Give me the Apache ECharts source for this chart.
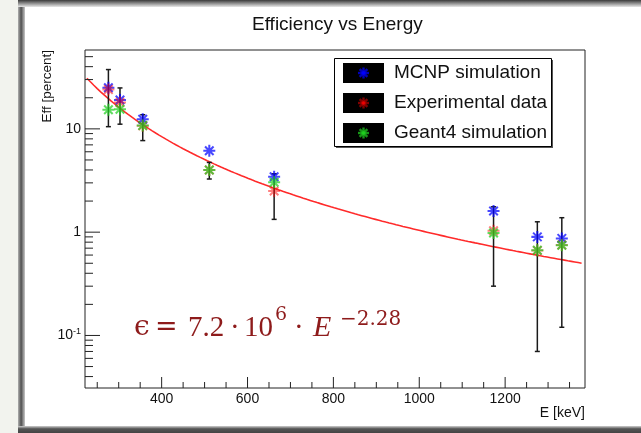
<!DOCTYPE html>
<html><head><meta charset="utf-8">
<script src="https://cdn.jsdelivr.net/npm/echarts@6/dist/echarts.min.js"></script>
<style>html,body{margin:0;padding:0;background:#fff}#c{width:641px;height:433px}</style>
</head><body><div id="c"></div>
<script>
// ---- data ----
const energies     = [276, 303, 356, 511, 662, 1173, 1275, 1332];
const mcnp         = [25.0, 19.0, 12.4, 6.15, 3.44, 1.60, 0.90, 0.87];
const experimental = [24.0, 18.0, 10.7, 4.0, 2.5, 1.03, 0.665, 0.75];
const expError     = [13.5, 6.9, 3.0, 0.73, 1.17, 0.73, 0.595, 0.63];
const geant4       = [15.3, 15.5, 10.8, 4.0, 3.04, 0.98, 0.668, 0.748];
// fit shown on the chart: eps = 7.2e6 * E^-2.28
const fitA = 7.2e6, fitB = -2.28;
const fitRange = [226, 1378];
const xLabelValues = [400, 600, 800, 1000, 1200];
const xMinorStep = 50, xMajorStep = 200;
const yDecades = [0.01, 0.1, 1, 10];
const yMultipliers = [1, 2, 3, 4, 5, 6, 7, 8, 9];
const seriesNames = ['MCNP simulation', 'Experimental data', 'Geant4 simulation'];

const X_MIN = 221.5, X_MAX = 1386, Y_MIN = 0.031, Y_MAX = 58;
const FONT = '"Liberation Sans", Helvetica, Arial, sans-serif';
const SERIF = '"Liberation Serif", "DejaVu Serif", serif';
const DSERIF = '"DejaVu Serif", serif';
const ASTER = 'path://M0 8.3L20 8.3L20 11.7L0 11.7Z M8.3 0L11.7 0L11.7 20L8.3 20Z M4.1 1.7L18.3 15.9L15.9 18.3L1.7 4.1Z M18.3 4.1L4.1 18.3L1.7 15.9L15.9 1.7Z';
const colors = ['#0000ff', '#ff0000', '#20d020'];
const opac = [0.72, 0.5, 0.72];

const fitData = [];
for (let e = fitRange[0]; e <= fitRange[1]; e += 4) fitData.push([e, fitA * Math.pow(e, fitB)]);

const yTicks = [];
yDecades.forEach(d => yMultipliers.forEach(m => {
  const v = d * m;
  if (v >= Y_MIN && v <= Y_MAX) yTicks.push([X_MIN, v, m === 1 ? 1 : 0]);
}));
const xTicks = [];
for (let e = Math.ceil(X_MIN / xMinorStep) * xMinorStep; e <= X_MAX; e += xMinorStep)
  xTicks.push([e, Y_MIN, e % xMajorStep === 0 ? 1 : 0]);

const chart = echarts.init(document.getElementById('c'), null, {renderer: 'canvas'});

function asteriskLines(cx, cy, r, color, op, z) {
  const d = r * 0.707;
  const st = {stroke: color, lineWidth: 2.4, opacity: op};
  return [
    {type: 'line', shape: {x1: cx - r, y1: cy, x2: cx + r, y2: cy}, style: st, z: z},
    {type: 'line', shape: {x1: cx, y1: cy - r, x2: cx, y2: cy + r}, style: st, z: z},
    {type: 'line', shape: {x1: cx - d, y1: cy - d, x2: cx + d, y2: cy + d}, style: st, z: z},
    {type: 'line', shape: {x1: cx - d, y1: cy + d, x2: cx + d, y2: cy - d}, style: st, z: z}
  ];
}

let legendEls = [];
legendEls.push({type: 'rect', shape: {x: 336, y: 60, width: 217, height: 88}, style: {fill: '#555'}, z: 10});
legendEls.push({type: 'rect', shape: {x: 334.5, y: 58.5, width: 217, height: 88}, style: {fill: '#fff', stroke: '#000', lineWidth: 1}, z: 11});
seriesNames.forEach((n, i) => {
  const cy = 73 + 30 * i;
  legendEls.push({type: 'rect', shape: {x: 343, y: cy - 10, width: 41, height: 20}, style: {fill: '#000'}, z: 12});
  legendEls = legendEls.concat(asteriskLines(363.5, cy, 5.5, colors[i], opac[i], 13));
  legendEls.push({type: 'text', x: 394, y: cy, style: {text: n, fontSize: 19, fontFamily: FONT, fill: '#111', align: 'left', verticalAlign: 'middle'}, z: 13});
});

const formula = [
  {t: 'ϵ', x: 134, y: 328, size: 28, fam: DSERIF, style: 'normal'},
  {t: '=', x: 155, y: 328, size: 27, fam: DSERIF, style: 'normal'},
  {t: '7.2', x: 188, y: 328, size: 29, fam: SERIF, style: 'normal'},
  {t: '·', x: 230, y: 328, size: 29, fam: SERIF, style: 'normal'},
  {t: '10', x: 244, y: 328, size: 29, fam: SERIF, style: 'normal'},
  {t: '6', x: 275, y: 315, size: 19, fam: DSERIF, style: 'normal'},
  {t: '·', x: 294, y: 328, size: 29, fam: SERIF, style: 'normal'},
  {t: 'E', x: 313, y: 328, size: 30, fam: SERIF, style: 'italic'},
  {t: '−2.28', x: 340, y: 320, size: 20, fam: DSERIF, style: 'normal'}
].map(f => ({type: 'text', x: f.x, y: f.y, z: 20,
  style: {text: f.t, fontSize: f.size, fontFamily: f.fam, fontStyle: f.style, fill: '#8e1b1b', align: 'left', verticalAlign: 'middle'}}));

const option = {
  backgroundColor: '#ffffff',
  animation: false,
  title: {text: 'Efficiency vs Energy', left: 247, top: 10,
    textStyle: {fontFamily: FONT, fontSize: 19, fontWeight: 'normal', color: '#111'}},
  grid: {left: 85, right: 56, top: 50, bottom: 45, show: true, borderColor: '#222', borderWidth: 1, backgroundColor: 'transparent'},
  xAxis: {type: 'value', min: X_MIN, max: X_MAX,
    axisLine: {show: false}, axisTick: {show: false}, splitLine: {show: false},
    axisLabel: {customValues: xLabelValues, margin: 4, fontFamily: FONT, fontSize: 14, color: '#111',
      formatter: v => String(Math.round(v))}},
  yAxis: {type: 'log', logBase: 10, min: Y_MIN, max: Y_MAX,
    axisLine: {show: false}, axisTick: {show: false}, splitLine: {show: false}, minorTick: {show: false},
    axisLabel: {margin: 4, fontFamily: FONT, fontSize: 14, color: '#111', showMinLabel: false, showMaxLabel: false,
      formatter: v => {
        const l = Math.log10(v), r = Math.round(l);
        if (Math.abs(l - r) > 1e-6) return '';
        if (r === 1) return '10';
        if (r === 0) return '1';
        if (r === -1) return '{b|10}{s|-1}';
        return '';
      },
      rich: {b: {fontFamily: FONT, fontSize: 14, color: '#111'}, s: {fontFamily: FONT, fontSize: 9, color: '#111', padding: [0, 0, 8, 0]}}}},
  graphic: {elements: [
    {type: 'rect', shape: {x: 0, y: 0, width: 18, height: 433}, style: {fill: '#f2f3ee'}, z: 1},
    {type: 'rect', shape: {x: 18, y: 0, width: 7, height: 433}, z: 2,
      style: {fill: new echarts.graphic.LinearGradient(0, 0, 1, 0, [{offset: 0, color: '#b0b0b0'}, {offset: 0.45, color: '#505050'}, {offset: 1, color: '#c8c8c8'}])}},
    {type: 'rect', shape: {x: 18, y: 0, width: 623, height: 7}, z: 2,
      style: {fill: new echarts.graphic.LinearGradient(0, 0, 0, 1, [{offset: 0, color: '#3a3a3a'}, {offset: 1, color: '#e8e8e8'}])}},
    {type: 'rect', shape: {x: 18, y: 426, width: 623, height: 7}, z: 2,
      style: {fill: new echarts.graphic.LinearGradient(0, 0, 0, 1, [{offset: 0, color: '#cfcfcf'}, {offset: 0.4, color: '#555'}, {offset: 1, color: '#444'}])}},
    {type: 'text', x: 47, y: 50, rotation: Math.PI / 2, z: 5,
      style: {text: 'Eff [percent]', fontSize: 13.5, fontFamily: FONT, fill: '#111', align: 'right', verticalAlign: 'middle'}},
    {type: 'text', x: 585, y: 413, z: 5,
      style: {text: 'E [keV]', fontSize: 14, fontFamily: FONT, fill: '#111', align: 'right', verticalAlign: 'middle'}}
  ].concat(legendEls).concat(formula)},
  series: [
    {type: 'line', name: 'fit', data: fitData, showSymbol: false, silent: true, z: 2,
      lineStyle: {color: '#ff2a2a', width: 1.6}},
    {type: 'custom', name: 'errors', z: 3, encode: {x: 0, y: 1},
      data: energies.map((e, i) => [e, experimental[i], expError[i]]),
      renderItem: (params, api) => {
        const e = api.value(0), v = api.value(1), er = api.value(2);
        const top = api.coord([e, v + er]), bot = api.coord([e, v - er]);
        const st = {stroke: '#1a1a1a', lineWidth: 1.5};
        return {type: 'group', children: [
          {type: 'line', shape: {x1: top[0], y1: top[1], x2: bot[0], y2: bot[1]}, style: st},
          {type: 'line', shape: {x1: top[0] - 2.5, y1: top[1], x2: top[0] + 2.5, y2: top[1]}, style: st},
          {type: 'line', shape: {x1: bot[0] - 2.5, y1: bot[1], x2: bot[0] + 2.5, y2: bot[1]}, style: st}
        ]};
      }},
    {type: 'scatter', name: seriesNames[0], data: energies.map((e, i) => [e, mcnp[i]]), symbol: ASTER, symbolSize: 12, z: 4,
      itemStyle: {color: colors[0], opacity: opac[0]}},
    {type: 'scatter', name: seriesNames[1], data: energies.map((e, i) => [e, experimental[i]]), symbol: ASTER, symbolSize: 12, z: 5,
      itemStyle: {color: colors[1], opacity: opac[1]}},
    {type: 'scatter', name: seriesNames[2], data: energies.map((e, i) => [e, geant4[i]]), symbol: ASTER, symbolSize: 12, z: 6,
      itemStyle: {color: colors[2], opacity: opac[2]}},
    {type: 'custom', name: 'yticks', z: 7, silent: true, encode: {x: 0, y: 1}, data: yTicks,
      renderItem: (params, api) => {
        const p = api.coord([api.value(0), api.value(1)]);
        const len = api.value(2) ? 15 : 8;
        return {type: 'line', shape: {x1: p[0], y1: p[1], x2: p[0] + len, y2: p[1]}, style: {stroke: '#222', lineWidth: 1}};
      }},
    {type: 'custom', name: 'xticks', z: 7, silent: true, encode: {x: 0, y: 1}, data: xTicks,
      renderItem: (params, api) => {
        const p = api.coord([api.value(0), api.value(1)]);
        const len = api.value(2) ? 11 : 6;
        return {type: 'line', shape: {x1: p[0], y1: p[1], x2: p[0], y2: p[1] - len}, style: {stroke: '#222', lineWidth: 1}};
      }}
  ]
};
chart.setOption(option);
</script></body></html>
